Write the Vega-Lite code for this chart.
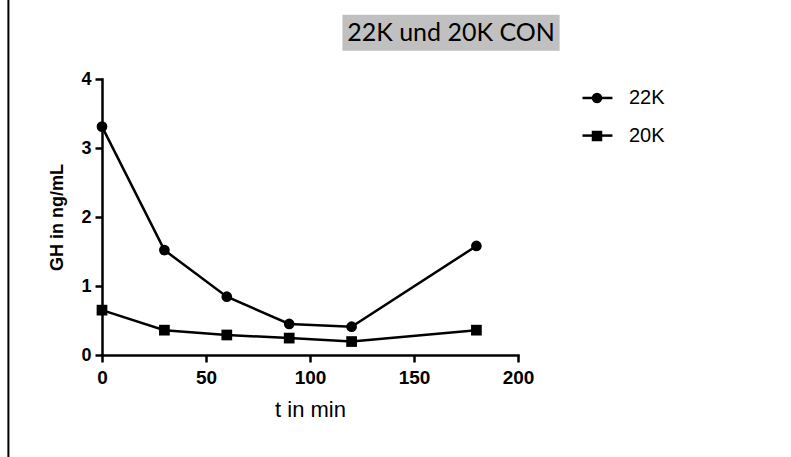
{
  "$schema": "https://vega.github.io/schema/vega-lite/v6.json",
  "width": 416,
  "height": 276,
  "autosize": "none",
  "padding": {"left": 102, "top": 79, "right": 273, "bottom": 102},
  "background": "white",
  "config": {
    "view": {"stroke": null},
    "font": "Arial",
    "axis": {
      "domainColor": "black", "domainWidth": 2.5, "domainCap": "square",
      "tickColor": "black", "tickWidth": 2.5, "tickSize": 7,
      "labelFont": "Arial", "labelFontSize": 19, "labelFontWeight": "bold", "labelColor": "black",
      "labelFlush": false,
      "titleColor": "black", "titleFont": "Arial", "titleFontSize": 18, "grid": false
    },
    "legend": {"labelFont": "Arial"}
  },
  "datasets": {
    "gh": [
      {"t": 0, "gh": 3.31, "series": "22K"},
      {"t": 30, "gh": 1.52, "series": "22K"},
      {"t": 60, "gh": 0.845, "series": "22K"},
      {"t": 90, "gh": 0.45, "series": "22K"},
      {"t": 120, "gh": 0.41, "series": "22K"},
      {"t": 180, "gh": 1.58, "series": "22K"},
      {"t": 0, "gh": 0.65, "series": "20K"},
      {"t": 30, "gh": 0.36, "series": "20K"},
      {"t": 60, "gh": 0.29, "series": "20K"},
      {"t": 90, "gh": 0.245, "series": "20K"},
      {"t": 120, "gh": 0.195, "series": "20K"},
      {"t": 180, "gh": 0.36, "series": "20K"}
    ]
  },
  "layer": [
    {
      "data": {"name": "gh"},
      "mark": {"type": "line", "color": "black", "strokeWidth": 2.5},
      "encoding": {
        "x": {"field": "t", "type": "quantitative", "scale": {"domain": [0, 200], "nice": false},
              "axis": {"values": [0, 50, 100, 150, 200], "format": "d", "title": "t in min", "titleFontWeight": "normal", "titleFontSize": 22, "labelPadding": 6, "titlePadding": 12}},
        "y": {"field": "gh", "type": "quantitative", "scale": {"domain": [0, 4], "nice": false},
              "axis": {"values": [0, 1, 2, 3, 4], "format": "d", "title": "GH in ng/mL", "titleFontWeight": "bold", "labelFontSize": 18, "labelPadding": 4, "titlePadding": 14}},
        "detail": {"field": "series", "type": "nominal"}
      }
    },
    {
      "data": {"values": [{"t": 231, "t2": 245.4, "gh": 3.725}, {"t": 231, "t2": 245.4, "gh": 3.18}]},
      "mark": {"type": "rule", "color": "black", "strokeWidth": 2.5},
      "encoding": {
        "x": {"field": "t", "type": "quantitative", "scale": {"domain": [0, 200], "nice": false}},
        "x2": {"field": "t2"},
        "y": {"field": "gh", "type": "quantitative", "scale": {"domain": [0, 4], "nice": false}}
      }
    },
    {
      "data": {"name": "gh"},
      "mark": {"type": "point", "filled": true, "opacity": 1, "color": "black", "size": 115},
      "encoding": {
        "x": {"field": "t", "type": "quantitative", "scale": {"domain": [0, 200], "nice": false}},
        "y": {"field": "gh", "type": "quantitative", "scale": {"domain": [0, 4], "nice": false}},
        "shape": {
          "field": "series", "type": "nominal",
          "scale": {"domain": ["22K", "20K"], "range": ["circle", "square"]},
          "legend": {
            "title": null, "orient": "none", "legendX": 485, "legendY": 9,
            "labelFont": "Arial", "labelFontSize": 20, "labelColor": "black",
            "labelOffset": 22, "symbolSize": 110, "rowPadding": 18, "padding": 0,
            "symbolOpacity": 1, "symbolFillColor": "black"
          }
        }
      }
    },
    {
      "data": {"values": [{"t": -45, "gh": 5.2, "gh2": -1.5}]},
      "mark": {"type": "rule", "color": "black", "strokeWidth": 2},
      "encoding": {
        "x": {"field": "t", "type": "quantitative", "scale": {"domain": [0, 200], "nice": false}},
        "y": {"field": "gh", "type": "quantitative", "scale": {"domain": [0, 4], "nice": false}},
        "y2": {"field": "gh2"}
      }
    },
    {
      "data": {"values": [{"t": 115.6, "t2": 220, "gh": 4.93, "gh2": 4.41}]},
      "mark": {"type": "rect", "color": "#C0C0C0"},
      "encoding": {
        "x": {"field": "t", "type": "quantitative", "scale": {"domain": [0, 200], "nice": false}},
        "x2": {"field": "t2"},
        "y": {"field": "gh", "type": "quantitative", "scale": {"domain": [0, 4], "nice": false}},
        "y2": {"field": "gh2"}
      }
    },
    {
      "data": {"values": [{"t": 167.8, "gh": 4.66, "label": "22K und 20K CON"}]},
      "mark": {"type": "text", "font": "Lato", "fontSize": 25, "color": "black", "align": "center", "baseline": "middle"},
      "encoding": {
        "x": {"field": "t", "type": "quantitative", "scale": {"domain": [0, 200], "nice": false}},
        "y": {"field": "gh", "type": "quantitative", "scale": {"domain": [0, 4], "nice": false}},
        "text": {"field": "label"}
      }
    }
  ]
}
